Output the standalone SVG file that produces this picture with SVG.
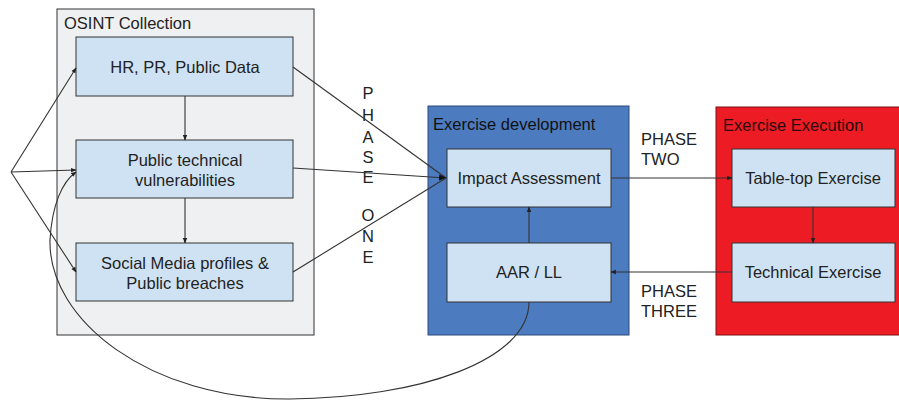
<svg xmlns="http://www.w3.org/2000/svg" width="899" height="401" viewBox="0 0 899 401">
<defs>
<marker id="ah" viewBox="0 0 10 10" refX="9" refY="5" markerWidth="5" markerHeight="5" orient="auto-start-reverse"><path d="M0,1 L10,5 L0,9 z" fill="#222"/></marker>
<marker id="ahb" viewBox="0 0 10 10" refX="9" refY="5" markerWidth="7" markerHeight="7" orient="auto"><path d="M0,1 L10,5 L0,9 z" fill="#111"/></marker>
</defs>
<style>
text{font-family:"Liberation Sans",Arial,sans-serif;font-size:16.5px;fill:#222}
.node{fill:#cfe2f3;stroke:#333;stroke-width:1}
.c{text-anchor:middle}
.ln{fill:none;stroke:#333;stroke-width:1.1}
.ph{font-size:16.5px;text-anchor:middle}
.t{font-size:16.5px}
</style>
<rect width="899" height="401" fill="#fff"/>
<g id="osint">
<rect x="57" y="9" width="257" height="326" fill="#eff0f1" stroke="#333" stroke-width="1"/>
<text class="t" x="64" y="29">OSINT Collection</text>
</g>
<g id="exdev">
<rect x="428" y="106" width="201" height="229" fill="#4d7bbf" stroke="#2d4a7a" stroke-width="1"/>
<text class="t" x="433" y="130" style="fill:#111">Exercise development</text>
</g>
<g id="exexec">
<rect x="716" y="107" width="185" height="228" fill="#ed1c24" stroke="#7a1010" stroke-width="1"/>
<text class="t" x="723" y="131" style="fill:#2a0a0a">Exercise Execution</text>
</g>
<g id="hr"><rect class="node" x="76" y="37" width="217" height="59"/><text class="c" x="185" y="73">HR, PR, Public Data</text></g>
<g id="ptv"><rect class="node" x="76" y="140" width="217" height="58"/><text class="c" x="185" y="166">Public technical</text><text class="c" x="185" y="186">vulnerabilities</text></g>
<g id="smp"><rect class="node" x="76" y="243" width="217" height="58"/><text class="c" x="185" y="269">Social Media profiles &amp;</text><text class="c" x="185" y="289">Public breaches</text></g>
<g id="impact"><rect class="node" x="447" y="149" width="164" height="58"/><text class="c" x="529" y="184">Impact Assessment</text></g>
<g id="aar"><rect class="node" x="447" y="243" width="164" height="59"/><text class="c" x="529" y="278">AAR / LL</text></g>
<g id="ttx"><rect class="node" x="732" y="149" width="163" height="58"/><text class="c" x="813" y="184">Table-top Exercise</text></g>
<g id="tex"><rect class="node" x="732" y="243" width="163" height="59"/><text class="c" x="813" y="278">Technical Exercise</text></g>
<g id="labels">
<text class="t" x="641" y="145">PHASE</text>
<text class="t" x="641" y="165">TWO</text>
<text class="t" x="641" y="297">PHASE</text>
<text class="t" x="641" y="317">THREE</text>
<text class="ph" x="368" y="99">P</text>
<text class="ph" x="368" y="121">H</text>
<text class="ph" x="368" y="143">A</text>
<text class="ph" x="368" y="163">S</text>
<text class="ph" x="368" y="183">E</text>
<text class="ph" x="368" y="221">O</text>
<text class="ph" x="368" y="242">N</text>
<text class="ph" x="368" y="263">E</text>
</g>
<g id="connectors">
<line class="ln" x1="11" y1="172" x2="76" y2="68" marker-end="url(#ah)"/>
<line class="ln" x1="11" y1="172" x2="76" y2="170" marker-end="url(#ah)"/>
<line class="ln" x1="11" y1="172" x2="76" y2="272" marker-end="url(#ah)"/>
<line class="ln" x1="185" y1="96" x2="185" y2="140" marker-end="url(#ah)"/>
<line class="ln" x1="185" y1="198" x2="185" y2="243" marker-end="url(#ah)"/>
<line class="ln" x1="293" y1="67" x2="446" y2="178"/>
<line class="ln" x1="293" y1="168" x2="446" y2="178" marker-end="url(#ahb)"/>
<line class="ln" x1="293" y1="272" x2="446" y2="178"/>
<line class="ln" x1="611" y1="178" x2="732" y2="178" marker-end="url(#ah)"/>
<line class="ln" x1="813" y1="207" x2="813" y2="243" marker-end="url(#ah)"/>
<line class="ln" x1="732" y1="272" x2="611" y2="272" marker-end="url(#ah)"/>
<line class="ln" x1="529" y1="243" x2="529" y2="207" marker-end="url(#ah)"/>
<path class="ln" d="M529,302 C529,360 420,398 290,399 C150,400 48,320 50,240 C52,205 62,182 76,172" marker-end="url(#ah)"/>
</g>
</svg>
